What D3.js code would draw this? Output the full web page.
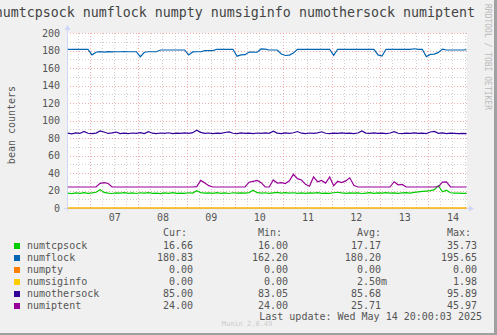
<!DOCTYPE html>
<html>
<head>
<meta charset="utf-8">
<script src="https://cdn.jsdelivr.net/npm/d3@7"></script>
<style>
  body { margin: 0; background: #F0F0F0; }
  svg { display: block; }
  text { font-family: 'DejaVu Sans Mono', monospace; }
</style>
</head>
<body>
<svg></svg>
<script>
// Munin weekly graph: bean counters
const width = 497
const height = 335

const seriesNames = ['numtcpsock', 'numflock', 'numpty', 'numsiginfo', 'numothersock', 'numiptent']
const seriesColors = ['#00CC00', '#0066B3', '#FF8000', '#FFCC00', '#330099', '#990099']

// one sample every 2 hours, from May 6 13:00 to May 14 19:00
const numtcpsock = [17.0,16.5,17.3,16.8,17.6,16.7,17.2,18.0,21.0,17.8,
  17.1,16.6,17.3,16.9,17.5,16.7,17.2,16.6,17.4,16.9,
  17.6,16.8,17.0,16.5,17.3,16.8,17.5,16.7,17.1,16.8,
  17.4,17.0,19.8,17.6,16.9,17.3,16.7,17.5,16.8,17.2,
  16.6,17.4,16.9,17.3,17.0,17.6,20.3,17.5,17.0,17.4,
  16.8,17.3,17.9,17.1,17.6,17.0,17.4,16.8,17.2,16.7,
  17.3,16.9,17.5,16.8,17.1,16.7,17.4,18.0,17.2,16.8,
  17.3,16.9,17.2,16.6,17.1,17.5,16.8,17.2,16.9,17.6,
  17.0,17.3,16.8,17.2,17.6,17.1,17.8,18.4,18.9,19.3,
  19.8,21.0,25.5,18.6,20.4,17.4,16.9,17.1,16.8,16.66]
const numflock = [181.4,181.4,181.4,181.4,181.4,181.4,175.0,178.0,178.6,178.2,
  178.6,178.4,178.6,178.6,178.8,178.6,178.6,178.6,172.9,178.0,
  178.6,178.6,178.6,180.6,180.6,180.6,180.6,180.6,180.6,180.6,
  175.0,178.4,178.6,178.6,179.8,179.8,179.8,181.4,181.4,181.4,
  181.4,181.4,173.5,175.0,175.2,178.2,178.2,178.0,181.8,181.6,
  180.6,180.6,180.6,176.0,174.3,174.8,177.2,181.4,181.4,181.4,
  181.4,181.4,181.4,181.4,181.4,181.4,174.5,181.4,181.4,181.4,
  181.4,181.4,181.4,181.4,181.4,181.4,181.4,175.0,173.7,181.4,
  181.4,181.4,181.4,181.4,181.4,181.4,182.0,181.4,181.4,173.0,
  175.5,175.8,177.8,181.6,180.6,180.6,180.6,180.6,180.6,180.83]
const numpty = [0,0,0,0,0,0,0,0,0,0, 0,0,0,0,0,0,0,0,0,0,
  0,0,0,0,0,0,0,0,0,0, 0,0,0,0,0,0,0,0,0,0,
  0,0,0,0,0,0,0,0,0,0, 0,0,0,0,0,0,0,0,0,0,
  0,0,0,0,0,0,0,0,0,0, 0,0,0,0,0,0,0,0,0,0,
  0,0,0,0,0,0,0,0,0,0, 0,0,0,0,0,0,0,0,0,0]
const numsiginfo = [0,0,0,0,0,0,0,0,0,0, 0,0,0,0,0,0,0,0,0,0,
  0,0,0,0,0,0,0,0,0,0, 0,0,0,0,0,0,0,0,0,0,
  0,0,0,0,0,0,0,0,0,0, 0,0,0,0,0,0,0,0,0,0,
  0,0,0,0,0,0,0.24,0,0,0, 0,0,0,0,0,0,0,0,0,0,
  0,0,0,0,0,0,0,0,0,0, 0,0,0,0,0,0,0,0,0,0]
const numothersock = [85.6,84.8,85.9,85.2,87.6,85.4,84.9,85.6,88.1,86.9,
  85.2,85.8,86.8,85.1,85.6,84.9,85.7,85.3,86.2,85.0,
  87.2,85.5,84.9,85.7,85.3,86.0,85.1,85.6,85.4,85.8,
  85.2,86.1,88.8,86.4,85.3,85.7,84.9,85.6,85.2,86.3,
  87.0,85.4,85.0,85.8,85.3,85.6,84.9,85.7,85.2,85.9,
  85.4,87.8,85.6,85.1,85.8,85.3,86.0,87.4,85.5,85.0,
  85.7,85.2,85.9,87.1,85.4,85.0,85.6,85.2,85.8,85.3,
  85.6,85.1,85.7,88.0,85.6,85.2,85.8,85.3,85.6,85.0,
  85.7,87.3,85.4,85.0,85.6,85.2,85.8,85.3,85.6,85.1,
  86.9,87.6,85.4,85.8,85.1,85.6,85.3,85.0,85.2,85.0]
const numiptent = [24,24,24,24,24,24,24,24,28.2,29.0,
  28.0,24,24,24,24,24,24,24,24,24,
  24,24,24,24,24,24,24,24,24,24,
  24,24,24.5,31.5,28.5,25.5,24,24,24,24,
  24,24,24,24,24,29.5,30.5,31.5,29.0,24.2,
  24,32.0,28.5,29.0,28.0,31.0,38.5,33.5,32.0,27.0,
  24.8,35.5,30.0,31.5,28.5,35.5,25.5,30.5,29.0,31.0,
  34.5,26.0,24,24,24,24,24,24,24,24,
  24,30.0,26.5,27.0,24,24,24,24,24,24,
  24,24,24.5,29.5,29.8,24.2,24,24,24,24]

const yTicks = [0, 20, 40, 60, 80, 100, 120, 140, 160, 180, 200]
const xTickLabels = ['07', '08', '09', '10', '11', '12', '13', '14']

const curVals = ['16.66', '180.83', '0.00', '0.00', '85.00', '24.00']
const minVals = ['16.00', '162.20', '0.00', '0.00', '83.05', '24.00']
const avgVals = ['17.17 ', '180.20 ', '0.00 ', '2.50m', '85.68 ', '25.71 ']
const maxVals = ['35.73', '195.65', '0.00', '1.98', '95.89', '45.97']

const plotLeft = 67, plotRight = 467, plotTop = 33, plotBottom = 208

let svg = d3.select('svg').attr('width', width).attr('height', height)

// background and shade
svg.append('rect').attr('width', width).attr('height', height).attr('fill', '#F0F0F0')
svg.append('rect').attr('x', width - 3).attr('y', 0).attr('width', 3).attr('height', height).attr('fill', '#A0A0A0')
svg.append('rect').attr('x', 0).attr('y', height - 2).attr('width', width).attr('height', 2).attr('fill', '#A0A0A0')
svg.append('rect').attr('x', plotLeft).attr('y', plotTop).attr('width', plotRight - plotLeft)
    .attr('height', plotBottom - plotTop).attr('fill', '#FFFFFF')

let xScale = d3.scaleTime()
    .domain([new Date(2025, 4, 6, 12, 35), new Date(2025, 4, 14, 19, 12)])
    .range([plotLeft, plotRight])
let yScale = d3.scaleLinear().domain([0, 200]).range([plotBottom, plotTop])

let times = numflock.map((d, i) => new Date(2025, 4, 6, 13 + 2 * i))

// grid
let grid = svg.append('g')
let minorY = d3.range(10, 200, 20)
grid.selectAll('.gy').data(minorY).enter().append('line')
    .attr('x1', plotLeft).attr('x2', plotRight)
    .attr('y1', d => Math.round(yScale(d)) + 0.5).attr('y2', d => Math.round(yScale(d)) + 0.5)
    .attr('stroke', '#D0D0D0').attr('stroke-dasharray', '1,2')
let sixHours = d3.timeHour.every(6).range(xScale.domain()[0], xScale.domain()[1])
    .filter(d => d.getHours() !== 0)
grid.selectAll('.gx').data(sixHours).enter().append('line')
    .attr('x1', d => Math.round(xScale(d)) + 0.5).attr('x2', d => Math.round(xScale(d)) + 0.5)
    .attr('y1', plotTop).attr('y2', plotBottom)
    .attr('stroke', '#D0D0D0').attr('stroke-dasharray', '1,2')
grid.selectAll('.my').data(yTicks.slice(1)).enter().append('line')
    .attr('x1', plotLeft).attr('x2', plotRight)
    .attr('y1', d => Math.round(yScale(d)) + 0.5).attr('y2', d => Math.round(yScale(d)) + 0.5)
    .attr('stroke', '#F2AAAA').attr('stroke-dasharray', '1,2')
let days = d3.timeDay.range(xScale.domain()[0], xScale.domain()[1])
grid.selectAll('.mx').data(days).enter().append('line')
    .attr('x1', d => Math.round(xScale(d)) + 0.5).attr('x2', d => Math.round(xScale(d)) + 0.5)
    .attr('y1', plotTop).attr('y2', plotBottom)
    .attr('stroke', '#F2AAAA').attr('stroke-dasharray', '1,2')

// axes
let yAxis = d3.axisLeft(yScale).tickValues(yTicks).tickSize(0).tickPadding(7)
let gy = svg.append('g').attr('transform', 'translate(' + plotLeft + ',0)').call(yAxis)
gy.select('.domain').remove()
gy.selectAll('text').attr('font-family', 'DejaVu Sans Mono').attr('font-size', 10).attr('fill', '#555')
    .attr('dy', '0.34em')

let noons = xTickLabels.map((d, i) => new Date(2025, 4, 7 + i, 12))
let xAxis = d3.axisBottom(xScale).tickValues(noons).tickSize(0).tickPadding(6)
    .tickFormat((d, i) => xTickLabels[i])
let gx = svg.append('g').attr('transform', 'translate(0,' + plotBottom + ')').call(xAxis)
gx.select('.domain').remove()
gx.selectAll('text').attr('font-family', 'DejaVu Sans Mono').attr('font-size', 10).attr('fill', '#555')

// axis lines and arrows
svg.append('line').attr('x1', plotLeft + 0.5).attr('x2', plotLeft + 0.5).attr('y1', plotBottom + 3).attr('y2', plotTop - 4)
    .attr('stroke', '#CFD6F8')
svg.append('path').attr('d', `M${plotLeft - 2.5},${plotTop - 3} L${plotLeft + 3.5},${plotTop - 3} L${plotLeft + 0.5},${plotTop - 8} Z`)
    .attr('fill', '#CFD6F8')
svg.append('line').attr('x1', plotLeft - 3).attr('x2', plotRight + 3).attr('y1', plotBottom + 0.5).attr('y2', plotBottom + 0.5)
    .attr('stroke', '#CFD6F8')
svg.append('path').attr('d', `M${plotRight + 2},${plotBottom - 2.5} L${plotRight + 2},${plotBottom + 3.5} L${plotRight + 7},${plotBottom + 0.5} Z`)
    .attr('fill', '#CFD6F8')

// series
svg.append('clipPath').attr('id', 'plot').append('rect')
    .attr('x', plotLeft).attr('y', plotTop - 2).attr('width', plotRight - plotLeft).attr('height', plotBottom - plotTop + 3)
let allSeries = [numtcpsock, numflock, numpty, numsiginfo, numothersock, numiptent]
let line = d3.line().x((d, i) => xScale(times[i])).y(d => yScale(d))
svg.append('g').attr('clip-path', 'url(#plot)')
    .selectAll('path').data(allSeries).enter().append('path')
    .attr('d', d => line(d))
    .attr('fill', 'none')
    .attr('stroke', (d, i) => seriesColors[i])
    .attr('stroke-width', 1.2)

// title and labels
svg.append('text').attr('x', 475).attr('y', 17).attr('text-anchor', 'end')
    .attr('font-size', 13.3).attr('fill', '#444')
    .text(seriesNames.join(' '))
svg.append('text').attr('transform', 'translate(15,125) rotate(-90)').attr('text-anchor', 'middle')
    .attr('font-size', 10).attr('fill', '#555').text('bean counters')
svg.append('text').attr('transform', 'translate(485,4) rotate(90)').attr('text-anchor', 'start')
    .attr('font-size', 8).attr('fill', '#BBB').text('RRDTOOL / TOBI OETIKER')

// legend
let legend = svg.append('g').attr('font-size', 10).attr('fill', '#555')
let cols = [[193, 'Cur:', curVals], [288, 'Min:', minVals], [387, 'Avg:', avgVals], [477, 'Max:', maxVals]]
cols.forEach(c => {
    legend.append('text').attr('x', c[0] - 6).attr('y', 236).attr('text-anchor', 'end').text(c[1])
})
seriesNames.forEach((name, i) => {
    let y = 249 + i * 12
    legend.append('rect').attr('x', 14).attr('y', y - 6).attr('width', 6).attr('height', 6).attr('fill', seriesColors[i])
    legend.append('text').attr('x', 27).attr('y', y).text(name)
    cols.forEach(c => {
        legend.append('text').attr('x', c[0]).attr('y', y).attr('text-anchor', 'end')
            .style('white-space', 'pre').text(c[2][i])
    })
})
legend.append('text').attr('x', 482).attr('y', 320).attr('text-anchor', 'end')
    .text('Last update: Wed May 14 20:00:03 2025')
svg.append('text').attr('x', 247).attr('y', 326).attr('text-anchor', 'middle')
    .attr('font-size', 7).attr('fill', '#CCC').text('Munin 2.0.49')
</script>
</body>
</html>
